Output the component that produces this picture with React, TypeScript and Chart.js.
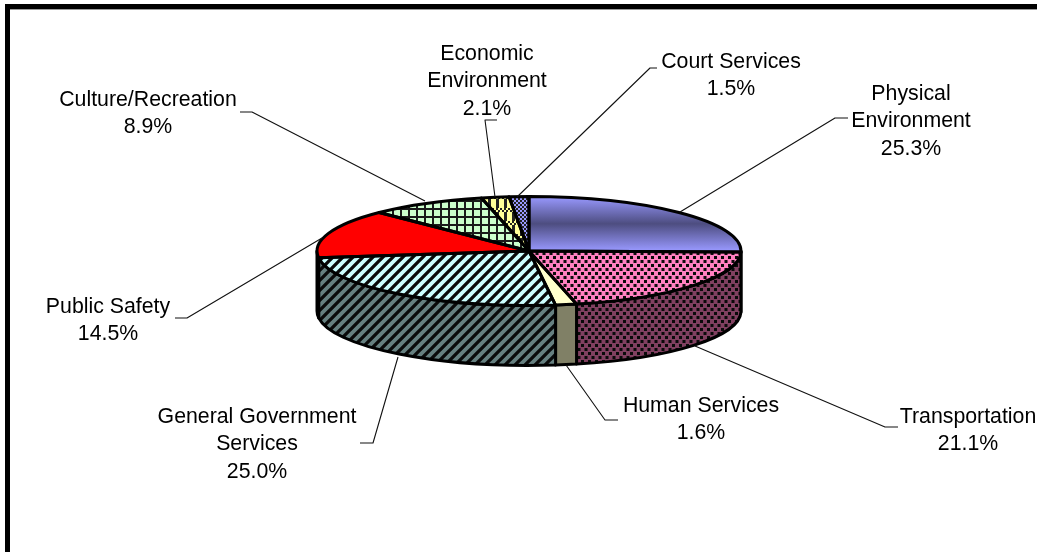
import React, { useEffect, useRef } from "react";
import { Chart, registerables } from "chart.js";

Chart.register(...registerables);

const categories = [
  "Physical Environment",
  "Transportation",
  "Human Services",
  "General Government Services",
  "Public Safety",
  "Culture/Recreation",
  "Economic Environment",
  "Court Services",
];
const shares = [25.3, 21.1, 1.6, 25.0, 14.5, 8.9, 2.1, 1.5];
const labelLines = [
  ["Physical", "Environment"],
  ["Transportation"],
  ["Human Services"],
  ["General Government", "Services"],
  ["Public Safety"],
  ["Culture/Recreation"],
  ["Economic", "Environment"],
  ["Court Services"],
];

const W = 1037;
const H = 552;
const SQUASH = 54.5 / 212;
const DEPTH = 60;
const FONT = '21.3px "Liberation Sans", Arial, sans-serif';
const LINE_H = 27.5;

// text anchor: centre x, first-line baseline
const labelAnchors = [
  [911, 99.5],
  [968, 422.5],
  [701, 411.5],
  [257, 422.5],
  [108, 312.5],
  [148, 105.5],
  [487, 59.5],
  [731, 67.5],
];
// leader lines: on the pie, elbow, end
const leaders = [
  [[680, 212], [835, 118], [848, 118]],
  [[695, 346], [885, 427], [898, 427]],
  [[566, 365], [605, 420], [618, 420]],
  [[398, 357], [373, 443], [360, 443]],
  [[322, 238], [187, 318], [175, 318]],
  [[425, 201], [252, 112], [240, 112]],
  [[495, 197], [485, 120], [497, 120]],
  [[517, 197], [650, 68], [657, 68]],
];

type Draw = (c: CanvasRenderingContext2D) => void;
type Tile = { w: number; h: number; draw: Draw };

const INK = "#0a0a0a";

const dotsTile: Tile = {
  w: 7,
  h: 8,
  draw: (c) => {
    c.fillStyle = INK;
    c.fillRect(0, 0, 3, 3);
    c.fillRect(3.5, 4, 3, 3);
  },
};
const stripesTile: Tile = {
  w: 10,
  h: 10,
  draw: (c) => {
    c.strokeStyle = INK;
    c.lineWidth = 3.3;
    c.beginPath();
    c.moveTo(-3, 13);
    c.lineTo(13, -3);
    c.moveTo(-3, 3);
    c.lineTo(3, -3);
    c.moveTo(7, 13);
    c.lineTo(13, 7);
    c.stroke();
  },
};
const gridTile: Tile = {
  w: 8,
  h: 8,
  draw: (c) => {
    c.fillStyle = "#1a1a1a";
    c.fillRect(0, 0, 2, 8);
    c.fillRect(0, 0, 8, 2);
  },
};
const trellisTile: Tile = {
  w: 16,
  h: 13,
  draw: (c) => {
    c.fillStyle = "#222";
    c.fillRect(0, 0, 3, 13);
    c.fillRect(8, 0, 3, 13);
    for (let x = 0; x < 16; x += 2) {
      c.fillStyle = x % 4 === 0 ? "#222" : "#ffff99";
      c.fillRect(x, 0, 2, 2);
      c.fillStyle = x % 4 === 0 ? "#ffff99" : "#222";
      c.fillRect(x, 2, 2, 2);
    }
  },
};
const checkTile: Tile = {
  w: 4,
  h: 4,
  draw: (c) => {
    c.fillStyle = "#222";
    c.fillRect(0, 0, 2, 2);
    c.fillRect(2, 2, 2, 2);
  },
};

const topFills = ["#9999ff", "#ff80c0", "#ffffcc", "#ccffff", "#ff0000", "#ccffcc", "#ffff99", "#9999ff"];
const sideFills = ["#4d4d80", "#804060", "#808066", "#668080", "#800000", "#668066", "#80804d", "#4d4d80"];
const tiles: (Tile | null)[] = [null, dotsTile, null, stripesTile, null, gridTile, trellisTile, checkTile];

function makePattern(ctx: CanvasRenderingContext2D, base: string, tile: Tile | null, matrix?: DOMMatrix) {
  if (!tile) return base;
  const t = document.createElement("canvas");
  t.width = tile.w;
  t.height = tile.h;
  const c = t.getContext("2d")!;
  c.fillStyle = base;
  c.fillRect(0, 0, tile.w, tile.h);
  tile.draw(c);
  const p = ctx.createPattern(t, "repeat")!;
  if (matrix) p.setTransform(matrix);
  return p;
}

const makePie3d = (sides: any[]) => ({
  id: "pie3d",
  beforeDraw(chart: any) {
    const c = chart.ctx;
    c.save();
    c.fillStyle = "#000";
    c.fillRect(5, 4, W - 5, 5);
    c.fillRect(5, 4, 5, H - 4);
    c.fillStyle = "#999";
    c.fillRect(10, 9, W - 10, 1);
    c.restore();
  },
  beforeDatasetsDraw(chart: any) {
    const c = chart.ctx as CanvasRenderingContext2D;
    const arcs = chart.getDatasetMeta(0).data;
    const { x: cx, y: cy, outerRadius: rx } = arcs[0];
    const ry = rx * SQUASH;
    c.save();
    c.lineWidth = 3;
    c.strokeStyle = "#000";
    c.lineJoin = "round";
    arcs.forEach((arc: any, i: number) => {
      const a = Math.max(arc.startAngle, 0);
      const b = Math.min(arc.endAngle, Math.PI);
      if (a >= b) return;
      c.beginPath();
      c.ellipse(cx, cy, rx, ry, 0, a, b);
      c.ellipse(cx, cy + DEPTH, rx, ry, 0, b, a, true);
      c.closePath();
      c.fillStyle = sides[i];
      c.fill();
      c.stroke();
    });
    c.restore();
    c.save();
    c.translate(0, cy);
    c.scale(1, SQUASH);
    c.translate(0, -cy);
  },
  afterDatasetsDraw(chart: any) {
    const c = chart.ctx as CanvasRenderingContext2D;
    c.restore();
    const arcs = chart.getDatasetMeta(0).data;
    const { x: cx, y: cy, outerRadius: rx } = arcs[0];
    const ry = rx * SQUASH;
    c.save();
    c.lineWidth = 3;
    c.strokeStyle = "#000";
    c.lineJoin = "round";
    arcs.forEach((arc: any) => {
      c.beginPath();
      c.moveTo(cx, cy);
      c.ellipse(cx, cy, rx, ry, 0, arc.startAngle, arc.endAngle);
      c.closePath();
      c.stroke();
    });
    c.lineWidth = 1.1;
    c.strokeStyle = "#111";
    leaders.forEach((pts) => {
      c.beginPath();
      pts.forEach(([x, y], i) => (i ? c.lineTo(x, y) : c.moveTo(x, y)));
      c.stroke();
    });
    c.font = FONT;
    c.fillStyle = "#000";
    c.textAlign = "center";
    c.textBaseline = "alphabetic";
    labelLines.forEach((lines, i) => {
      const [x, y] = labelAnchors[i];
      [...lines, `${shares[i].toFixed(1)}%`].forEach((t, j) => c.fillText(t, x, y + j * LINE_H));
    });
    c.restore();
  },
});

export default function App() {
  const ref = useRef<HTMLCanvasElement>(null);
  useEffect(() => {
    const canvas = ref.current!;
    const ctx = canvas.getContext("2d")!;
    const cy = 251;
    const inverse = new DOMMatrix().translate(0, cy).scale(1, 1 / SQUASH).translate(0, -cy);
    const gradient = ctx.createLinearGradient(0, cy - 212, 0, cy);
    gradient.addColorStop(0, "#9999ff");
    gradient.addColorStop(0.5, "#4d4d80");
    gradient.addColorStop(1, "#9999ff");
    const fills: any[] = topFills.map((base, i) => makePattern(ctx, base, tiles[i], inverse));
    fills[0] = gradient;
    const sides = sideFills.map((base, i) => makePattern(ctx, base, tiles[i]));
    const chart = new Chart(canvas, {
      type: "pie",
      data: {
        labels: categories,
        datasets: [{ data: shares, backgroundColor: fills, borderWidth: 0, clip: false as any }],
      },
      options: {
        animation: false,
        responsive: false,
        devicePixelRatio: 1,
        layout: { padding: { left: 317, right: 296, top: 39, bottom: 89 } },
        plugins: { legend: { display: false }, tooltip: { enabled: false } },
      },
      plugins: [makePie3d(sides) as any],
    });
    return () => chart.destroy();
  }, []);
  return (
    <div style={{ position: "fixed", left: 0, top: 0, width: W, height: H, background: "#fff" }}>
      <canvas ref={ref} width={W} height={H} style={{ display: "block" }} />
    </div>
  );
}
